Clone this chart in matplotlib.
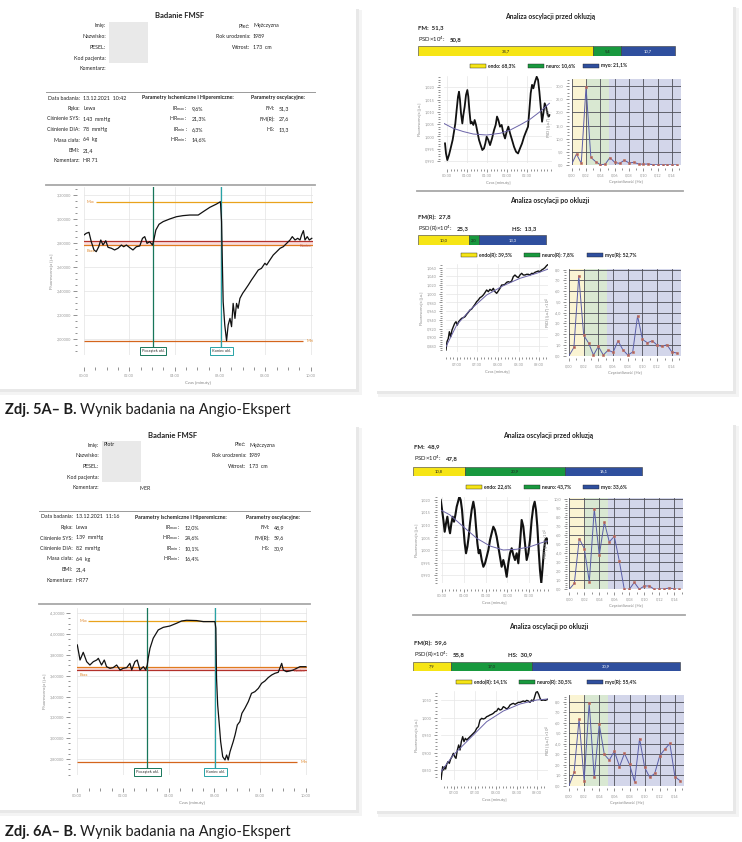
import numpy as np
import matplotlib.pyplot as plt
from matplotlib.patches import Rectangle
from matplotlib.lines import Line2D
from matplotlib.ticker import MultipleLocator, FuncFormatter
import matplotlib.transforms as mtransforms

plt.rcParams['font.family'] = ['Lato', 'DejaVu Sans']
plt.rcParams['mathtext.fontset'] = 'custom'
plt.rcParams['mathtext.rm'] = 'Lato'
plt.rcParams['mathtext.it'] = 'Lato:italic'
plt.rcParams['mathtext.bf'] = 'Lato:bold'

W, H = 742, 842

# --- naglowki ---
info_labels = ["Imię:", "Nazwisko:", "PESEL:", "Kod pacjenta:", "Komentarz:"]
info_r_labels = ["Płeć:", "Rok urodzenia:", "Wzrost:"]
info_r_values = ["Mężczyzna", "1989", "173  cm"]
left_labels = ["Data badania:", "Ręka:", "Ciśnienie SYS:", "Ciśnienie DIA:", "Masa ciała:", "BMI:", "Komentarz:"]
param_labels = ["IR$_{\\rm max}$ :", "HR$_{\\rm max}$ :", "IR$_{\\rm min}$ :", "HR$_{\\rm min}$ :"]
osc_labels = ["FM:", "FM(R):", "HS:"]

left_values_5 = ["13.12.2021  10:42", "Lewa", "143  mmHg", "78  mmHg", "64  kg", "21,4", "HR 71"]
param_values_5 = ["9,6%", "21,3%", "6,3%", "14,6%"]
osc_values_5 = ["51,3", "27,6", "13,3"]

left_values_6 = ["13.12.2021  11:16", "Lewa", "139  mmHg", "82  mmHg", "64  kg", "21,4", "HR77"]
param_values_6 = ["12,0%", "24,6%", "10,1%", "16,4%"]
osc_values_6 = ["48,9", "59,6", "30,9"]

# --- wykres glowny 5A ---
t_5 = [0.00, 0.10, 0.22, 0.32, 0.44, 0.54, 0.65, 0.74, 0.84, 0.96, 1.06, 1.21, 1.35, 1.50, 1.65, 1.75,
       1.87, 2.02, 2.16, 2.31, 2.46, 2.58, 2.68, 2.78, 2.90, 3.02, 3.08, 3.17, 3.31, 3.49, 3.78, 4.08,
       4.37, 4.67, 5.04, 5.26, 5.55, 5.85, 6.02, 6.07, 6.10, 6.14, 6.21, 6.29, 6.36, 6.44, 6.51, 6.58,
       6.66, 6.73, 6.80, 6.88, 7.00, 7.10, 7.25, 7.39, 7.54, 7.69, 7.83, 7.98, 8.06, 8.20, 8.35, 8.47,
       8.65, 8.79, 8.94, 9.09, 9.19, 9.31, 9.43, 9.53, 9.60, 9.68, 9.75, 9.85, 9.94, 10.05]
v_5 = [2.867, 2.881, 2.889, 2.811, 2.742, 2.728, 2.769, 2.825, 2.783, 2.819, 2.764, 2.756, 2.742, 2.756,
       2.783, 2.769, 2.783, 2.761, 2.742, 2.769, 2.775, 2.839, 2.853, 2.797, 2.811, 2.783, 2.825, 2.908,
       2.956, 2.978, 3.000, 3.019, 3.028, 3.033, 3.033, 3.061, 3.097, 3.125, 3.144, 2.978, 2.672, 2.311,
       2.117, 1.986, 2.117, 2.172, 2.103, 2.297, 2.172, 2.297, 2.256, 2.339, 2.381, 2.408, 2.450, 2.492,
       2.533, 2.575, 2.589, 2.631, 2.617, 2.658, 2.700, 2.722, 2.756, 2.769, 2.797, 2.825, 2.853, 2.825,
       2.839, 2.825, 2.867, 2.903, 2.825, 2.853, 2.825, 2.839]
levels_5 = {"max": 3.139, "baza": 2.781, "koniec": 2.819, "min": 1.986}
okl_5 = [3.05, 6.05]
yticks_5 = [2.0, 2.2, 2.4, 2.6, 2.8, 3.0, 3.2]

# --- wykres glowny 6A ---
t_6 = [0.00, 0.12, 0.26, 0.41, 0.55, 0.70, 0.85, 0.92, 1.06, 1.18, 1.28, 1.43, 1.57, 1.72, 1.87, 2.01,
       2.16, 2.30, 2.38, 2.52, 2.62, 2.74, 2.89, 2.99, 3.06, 3.10, 3.18, 3.32, 3.54, 3.76, 4.05, 4.34,
       4.56, 4.78, 5.22, 5.51, 6.02, 6.06, 6.09, 6.14, 6.20, 6.27, 6.36, 6.46, 6.53, 6.60, 6.68, 6.82,
       6.90, 7.00, 7.11, 7.20, 7.33, 7.48, 7.62, 7.77, 7.92, 8.06, 8.21, 8.35, 8.50, 8.64, 8.79, 8.94,
       9.01, 9.15, 9.30, 9.45, 9.59, 9.74, 10.00]
v_6 = [3.896, 3.751, 3.825, 3.735, 3.703, 3.735, 3.751, 3.767, 3.703, 3.751, 3.687, 3.671, 3.678, 3.703,
       3.655, 3.671, 3.678, 3.719, 3.655, 3.735, 3.751, 3.655, 3.687, 3.655, 3.703, 3.767, 3.864, 3.960,
       4.040, 4.065, 4.078, 4.104, 4.126, 4.133, 4.130, 4.120, 4.120, 4.056, 3.575, 3.319, 3.159, 2.967,
       2.822, 2.790, 2.838, 2.790, 2.870, 2.967, 3.031, 3.127, 3.159, 3.239, 3.287, 3.351, 3.431, 3.447,
       3.479, 3.527, 3.550, 3.582, 3.607, 3.623, 3.633, 3.719, 3.655, 3.639, 3.646, 3.655, 3.671, 3.687,
       3.687]
levels_6 = {"max": 4.126, "baza": 3.681, "koniec": 3.652, "min": 2.768}
okl_6 = [3.06, 6.03]
yticks_6 = [2.8, 3.0, 3.2, 3.4, 3.6, 3.8, 4.0, 4.2]

time_ticks = [0, 2, 4, 6, 8, 10]
time_labels = ["00:00", "02:00", "04:00", "06:00", "08:00", "10:00"]

# --- 5B: przed okluzja ---
t_5b1 = [0.442, 0.467, 0.500, 0.542, 0.583, 0.633, 0.667, 0.700, 0.733, 0.767, 0.792, 0.817, 0.842, 0.875,
         0.900, 0.933, 0.967, 1.000, 1.025, 1.050, 1.083, 1.108, 1.150, 1.183, 1.217, 1.250, 1.292, 1.333,
         1.375, 1.417, 1.450, 1.483, 1.525, 1.567, 1.617, 1.667, 1.708, 1.742, 1.775, 1.817, 1.858, 1.900,
         1.942, 1.983, 2.025, 2.067, 2.117, 2.167, 2.217, 2.267, 2.317, 2.367, 2.417, 2.467, 2.517, 2.550,
         2.583, 2.617, 2.650, 2.692, 2.733, 2.767, 2.800, 2.833, 2.867, 2.900, 2.933, 2.967, 3.000, 3.033,
         3.050]
v_5b1 = [0.9972, 0.9931, 0.9904, 0.9925, 0.9952, 0.9986, 1.0020, 1.0053, 1.0108, 1.0162, 1.0182, 1.0148,
         1.0094, 1.0053, 1.0087, 1.0121, 1.0169, 1.0189, 1.0162, 1.0108, 1.0053, 1.0060, 1.0047, 1.0067,
         1.0047, 1.0020, 0.9986, 0.9965, 0.9945, 0.9952, 0.9972, 0.9999, 0.9986, 0.9965, 0.9992, 1.0026,
         1.0047, 1.0081, 1.0067, 1.0040, 1.0047, 1.0013, 0.9992, 1.0020, 1.0040, 1.0013, 0.9986, 0.9958,
         0.9938, 0.9931, 0.9952, 0.9972, 0.9999, 1.0020, 1.0040, 1.0108, 1.0176, 1.0210, 1.0196, 1.0223,
         1.0243, 1.0230, 1.0182, 1.0121, 1.0060, 1.0094, 1.0135, 1.0121, 1.0094, 1.0081, 1.0087]
tt_5b1 = [0.417, 0.650, 0.900, 1.150, 1.483, 1.817, 2.067, 2.317, 2.567, 2.817, 3.050]
tv_5b1 = [1.0053, 1.0033, 1.0020, 1.0010, 1.0006, 1.0013, 1.0026, 1.0047, 1.0070, 1.0101, 1.0135]

# --- 5B: po okluzji ---
t_5b2 = [6.742, 6.766, 6.798, 6.823, 6.855, 6.887, 6.919, 6.952, 6.984, 7.016, 7.048, 7.081, 7.121, 7.161,
         7.202, 7.242, 7.282, 7.323, 7.363, 7.403, 7.444, 7.484, 7.524, 7.565, 7.605, 7.645, 7.685, 7.726,
         7.766, 7.806, 7.847, 7.887, 7.927, 7.968, 8.008, 8.048, 8.089, 8.129, 8.169, 8.210, 8.250, 8.290,
         8.331, 8.371, 8.411, 8.452, 8.492, 8.532, 8.573, 8.613, 8.653, 8.694, 8.734, 8.774, 8.815, 8.855,
         8.895, 8.935, 8.976, 9.016, 9.056, 9.097, 9.137, 9.177, 9.218]
v_5b2 = [0.8708, 0.8900, 0.8976, 0.9129, 0.9014, 0.9167, 0.9244, 0.9321, 0.9359, 0.9282, 0.9359, 0.9397,
         0.9436, 0.9451, 0.9474, 0.9528, 0.9574, 0.9627, 0.9650, 0.9704, 0.9757, 0.9819, 0.9857, 0.9911,
         0.9934, 0.9972, 1.0026, 1.0087, 1.0048, 1.0102, 1.0071, 1.0125, 1.0048, 1.0010, 1.0064, 1.0125,
         1.0202, 1.0202, 1.0217, 1.0263, 1.0278, 1.0263, 1.0294, 1.0393, 1.0431, 1.0393, 1.0370, 1.0431,
         1.0470, 1.0431, 1.0431, 1.0447, 1.0447, 1.0431, 1.0470, 1.0462, 1.0493, 1.0508, 1.0523, 1.0508,
         1.0546, 1.0569, 1.0600, 1.0646, 1.0677]
tt_5b2 = [6.742, 7.000, 7.323, 7.726, 8.129, 8.532, 8.935, 9.218]
tv_5b2 = [0.8785, 0.9282, 0.9627, 0.9972, 1.0186, 1.0355, 1.0470, 1.0569]

# --- 6B: przed okluzja ---
t_6b1 = [0.477, 0.508, 0.538, 0.568, 0.599, 0.629, 0.660, 0.690, 0.721, 0.751, 0.781, 0.812, 0.842, 0.873,
         0.903, 0.933, 0.964, 0.994, 1.025, 1.055, 1.086, 1.116, 1.146, 1.184, 1.222, 1.253, 1.283, 1.314,
         1.344, 1.375, 1.413, 1.451, 1.489, 1.527, 1.565, 1.603, 1.640, 1.678, 1.716, 1.754, 1.792, 1.830,
         1.868, 1.906, 1.944, 1.983, 2.021, 2.059, 2.097, 2.135, 2.173, 2.211, 2.249, 2.287, 2.325, 2.363,
         2.401, 2.439, 2.477, 2.515, 2.553, 2.591, 2.622, 2.652, 2.683, 2.713, 2.743, 2.773, 2.804, 2.834,
         2.865, 2.895, 2.918]
v_6b1 = [1.0200, 1.0160, 1.0120, 1.0073, 1.0107, 1.0133, 1.0093, 1.0067, 1.0107, 1.0133, 1.0113, 1.0140,
         1.0173, 1.0193, 1.0213, 1.0200, 1.0160, 1.0093, 1.0027, 0.9987, 1.0013, 1.0053, 1.0107, 1.0160,
         1.0193, 1.0160, 1.0093, 1.0027, 0.9987, 1.0000, 0.9960, 0.9933, 0.9947, 0.9973, 1.0000, 1.0040,
         1.0067, 1.0093, 1.0080, 1.0053, 1.0013, 0.9973, 0.9933, 0.9960, 0.9933, 0.9893, 0.9947, 0.9987,
         1.0007, 0.9980, 0.9960, 0.9987, 0.9947, 1.0027, 1.0120, 1.0093, 1.0027, 0.9960, 0.9987, 1.0040,
         1.0120, 1.0173, 1.0193, 1.0160, 1.0093, 1.0000, 0.9920, 0.9868, 0.9933, 1.0000, 1.0040, 1.0047,
         1.0027]
tt_6b1 = [0.477, 0.690, 0.994, 1.298, 1.603, 1.906, 2.211, 2.515, 2.743, 2.933]
tv_6b1 = [1.0160, 1.0140, 1.0093, 1.0047, 1.0016, 1.0000, 1.0003, 1.0013, 1.0027, 1.0037]

# --- 6B: po okluzji ---
t_6b2 = [6.688, 6.712, 6.728, 6.752, 6.776, 6.800, 6.824, 6.856, 6.888, 6.920, 6.952, 6.984, 7.016, 7.048,
         7.080, 7.112, 7.144, 7.176, 7.208, 7.240, 7.272, 7.304, 7.344, 7.384, 7.424, 7.464, 7.504, 7.544,
         7.584, 7.624, 7.664, 7.704, 7.744, 7.784, 7.824, 7.864, 7.904, 7.944, 7.984, 8.024, 8.064, 8.104,
         8.144, 8.184, 8.224, 8.264, 8.304, 8.344, 8.384, 8.424, 8.464, 8.504, 8.544, 8.584, 8.624, 8.664,
         8.704, 8.744, 8.784, 8.824, 8.864, 8.904, 8.936, 8.968, 9.000, 9.032, 9.064, 9.096, 9.144, 9.192,
         9.248]
v_6b2 = [0.8215, 0.8453, 0.8596, 0.8500, 0.8596, 0.8529, 0.8663, 0.8739, 0.8691, 0.8815, 0.8882, 0.8977,
         0.8882, 0.8834, 0.9072, 0.9215, 0.9072, 0.9310, 0.9453, 0.9310, 0.9405, 0.9358, 0.9405, 0.9453,
         0.9500, 0.9548, 0.9596, 0.9691, 0.9738, 0.9929, 0.9976, 0.9957, 0.9976, 1.0024, 1.0043, 1.0072,
         1.0091, 1.0119, 1.0167, 1.0186, 1.0262, 1.0215, 1.0233, 1.0310, 1.0281, 1.0243, 1.0281, 1.0357,
         1.0386, 1.0405, 1.0376, 1.0405, 1.0433, 1.0433, 1.0452, 1.0471, 1.0452, 1.0490, 1.0471, 1.0433,
         1.0500, 1.0471, 1.0595, 1.0719, 1.0738, 1.0662, 1.0548, 1.0490, 1.0500, 1.0490, 1.0519]
tt_6b2 = [6.688, 6.984, 7.384, 7.784, 8.184, 8.584, 8.984, 9.248]
tv_6b2 = [0.8453, 0.8929, 0.9405, 0.9881, 1.0186, 1.0386, 1.0500, 1.0529]

# --- widma PSD ---
freqs = [0.0, 0.0067, 0.0133, 0.0200, 0.0267, 0.0333, 0.0400, 0.0467, 0.0533, 0.0600, 0.0667, 0.0733,
         0.0800, 0.0867, 0.0933, 0.1000, 0.1067, 0.1133, 0.1200, 0.1267, 0.1333, 0.1400, 0.1467]
psd_5b1 = [0.3, 4.2, 0.6, 29.7, 2.9, 1.3, 0.1, 0.3, 2.8, 1.0, 0.6, 1.8, 0.8, 1.0, 0.4, 0.3, 0.4, 0.1,
           0.1, 0.1, 0.1, 0.05, 0.05]
psd_5b2 = [0.0, 0.77, 7.42, 1.9, 1.17, 0.06, 0.86, 0.06, 0.52, 0.31, 1.38, 0.55, 0.06, 0.34, 3.69, 1.51,
           1.2, 1.38, 0.98, 0.86, 1.02, 0.34, 0.25]
psd_6b1 = [0.0, 0.66, 5.62, 4.52, 0.85, 8.93, 3.79, 7.46, 5.26, 5.88, 3.13, 0.0, 0.0, 0.77, 0.0, 0.37,
           0.37, 0.0, 0.05, 0.03, 0.15, 0.03, 0.0]
psd_6b2 = [0.0, 1.27, 6.35, 0.48, 7.9, 0.79, 5.84, 2.98, 2.44, 3.3, 1.81, 3.08, 2.03, 0.38, 4.5, 1.75,
           0.79, 1.17, 2.86, 3.49, 4.03, 0.86, 0.48]
band_edges = [0.0, 0.021, 0.052, 0.152]
band_colors = ['#faf4d3', '#d9e8d2', '#d3d6ea']

# --- paski endo/neuro/myo ---
bar_5b1 = [34.7, 5.4, 10.7]
bar_5b2 = [10.0, 2.0, 13.3]
bar_6b1 = [10.8, 20.9, 16.1]
bar_6b2 = [7.9, 17.0, 30.9]
bar_colors = ['#f6e515', '#18993e', '#2f4f9e']
bar_text_colors = ['#222222', '#222222', '#ffffff']
leg_5b1 = ["endo: 68,3%", "neuro: 10,6%", "myo: 21,1%"]
leg_5b2 = ["endo(R): 39,5%", "neuro(R): 7,8%", "myo(R): 52,7%"]
leg_6b1 = ["endo: 22,6%", "neuro: 43,7%", "myo: 33,6%"]
leg_6b2 = ["endo(R): 14,1%", "neuro(R): 30,5%", "myo(R): 55,4%"]

fig = plt.figure(figsize=(W / 100, H / 100), dpi=100)
fig.patch.set_facecolor('white')
renderer = fig.canvas.get_renderer()


def rect(x0, y0, x1, y1):
    return [x0 / W, 1 - y1 / H, (x1 - x0) / W, (y1 - y0) / H]


def ftext(x, y, s, **kw):
    kw.setdefault('va', 'center')
    kw.setdefault('fontsize', 3.8)
    kw.setdefault('color', '#222222')
    return fig.text(x / W, 1 - y / H, s, **kw)


def fbox(x0, y0, x1, y1, **kw):
    fig.add_artist(Rectangle((x0 / W, 1 - y1 / H), (x1 - x0) / W, (y1 - y0) / H,
                             transform=fig.transFigure, **kw))


def fline(x0, x1, y, **kw):
    fig.add_artist(Line2D([x0 / W, x1 / W], [1 - y / H] * 2, transform=fig.transFigure, **kw))


def comma(nd):
    return FuncFormatter(lambda v, p: f"{v:.{nd}f}".replace('.', ','))


def card(x0, y0, x1, y1):
    fbox(x0 + 2, y0 + 2, x1 + 6, y1 + 6, color='#f4f4f4', lw=0, zorder=-12)
    fbox(x0 + 1, y0 + 1, x1 + 3, y1 + 3, color='#e8e8e8', lw=0, zorder=-11)
    fbox(x0, y0, x1, y1, color='white', lw=0, zorder=-10)


def style_ax(ax, off_bottom=6, off_left=3):
    for s in ax.spines.values():
        s.set_visible(False)
    ax.spines['bottom'].set_position(('outward', off_bottom))
    ax.spines['left'].set_position(('outward', off_left))
    ax.tick_params(which='both', colors='#666666', labelcolor='#9a9a9a', labelsize=2.8,
                   width=0.5, pad=1.5)
    ax.tick_params(which='major', length=3)
    ax.tick_params(which='minor', length=1.8)
    ax.patch.set_alpha(0)


def header(x_title, y_top, c, left_vals, par_vals, osc_vals, imie, komentarz):
    # c: kolumny [etykiety info, etykiety prawe, linia, lewa kol., srodek, prawa kol.]
    ftext(x_title, y_top, "Badanie FMSF", fontsize=5.5, fontweight='bold', ha='center')
    for i, lab in enumerate(info_labels):
        ftext(c[0], y_top + 10 + i * 10.7, lab, ha='right')
    fbox(c[0] + 3, y_top + 6, c[0] + 42, y_top + 47, color='#e9e9e9', lw=0)
    if imie:
        ftext(c[0] + 4, y_top + 10, imie)
    if komentarz:
        ftext(c[0] + 41, y_top + 53, komentarz)
    for i, (lab, val) in enumerate(zip(info_r_labels, info_r_values)):
        ftext(c[1], y_top + 10 + i * 10.7, lab, ha='right')
        ftext(c[1] + 3, y_top + 10 + i * 10.7, val)
    fline(c[2][0], c[2][1], y_top + 76, color='#9a9a9a', lw=0.7)
    y0 = y_top + 82
    for i, (lab, val) in enumerate(zip(left_labels, left_vals)):
        ftext(c[3], y0 + i * 10.5, lab, ha='right')
        ftext(c[3] + 3, y0 + i * 10.5, val)
    ftext(c[4], y0, "Parametry Ischemiczne i Hiperemiczne:", fontweight='bold', ha='center')
    for i, (lab, val) in enumerate(zip(param_labels, par_vals)):
        ftext(c[4], y0 + (i + 1) * 10.5, lab, ha='right')
        ftext(c[4] + 4, y0 + (i + 1) * 10.5, val)
    ftext(c[5], y0, "Parametry oscylacyjne:", fontweight='bold', ha='center')
    for i, (lab, val) in enumerate(zip(osc_labels, osc_vals)):
        ftext(c[5] - 3, y0 + (i + 1) * 10.5, lab, ha='right')
        ftext(c[5] + 1, y0 + (i + 1) * 10.5, val)
    fline(c[2][0], c[2][1], y_top + 169, color='#a8a8a8', lw=1.3)


def main_plot(r, t, v, lv, okl, yticks, ylim, xlim, max_from, min_to, koniec_x, box_y):
    ax = fig.add_axes(r)
    style_ax(ax, off_bottom=9, off_left=5)
    ax.set_xlim(xlim)
    ax.set_ylim(ylim)
    ax.set_xticks(time_ticks)
    ax.set_xticklabels(time_labels)
    ax.xaxis.set_minor_locator(MultipleLocator(0.5))
    ax.set_yticks(yticks)
    ax.yaxis.set_major_formatter(comma(5))
    ax.yaxis.set_minor_locator(MultipleLocator(0.05))
    ax.grid(True, which='major', color='#e3e3e3', lw=0.5)
    ax.set_axisbelow(True)
    lo, hi = sorted([lv["baza"], lv["koniec"]])
    ax.axhspan(lo, hi, color='#f9dcdc', lw=0, zorder=1)
    ax.axhline(lv["baza"], color='#e07b1f', lw=0.9, zorder=2)
    ax.axhline(lv["koniec"], color='#b3302b', lw=0.9, zorder=2)
    ax.hlines(lv["max"], max_from, xlim[1], color='#e9a31c', lw=0.9, zorder=2)
    ax.hlines(lv["min"], xlim[0], min_to, color='#d4651c', lw=0.9, zorder=2)
    ax.axvline(okl[0], color='#17765a', lw=0.9, zorder=3)
    ax.axvline(okl[1], color='#27a3a6', lw=0.9, zorder=3)
    ax.plot(t, v, color='#111111', lw=0.9, zorder=4)
    lk = dict(fontsize=2.9, va='center', zorder=5)
    ax.text(xlim[0] + 0.1, lv["max"], "Max", color='#e08a30', **lk)
    ax.text(xlim[0] + 0.1, lo - 0.045, "Baza", color='#e08a30', **lk)
    ax.text(koniec_x, lo - 0.01, "Koniec", color='#c0504d', ha='right', **lk)
    ax.text(min_to + 0.15, lv["min"], "Min", color='#e08a30', **lk)
    tr = mtransforms.blended_transform_factory(ax.transData, ax.transAxes)
    for x, lab, ec in zip(okl, ["Początek okl.", "Koniec okl."], ['#17765a', '#27a3a6']):
        ax.text(x, box_y, lab, transform=tr, ha='center', va='center', fontsize=2.9, color='#333333',
                zorder=6, bbox=dict(boxstyle='square,pad=0.45', fc='white', ec=ec, lw=0.7))
    ax.set_xlabel("Czas [minuty]", fontsize=3.2, color='#888888', labelpad=2)
    ax.set_ylabel("Fluorescencja [j.u.]", fontsize=3.2, color='#888888', labelpad=2)
    return ax


def sig_plot(r, t, v, tt, tv, xlim, ylim, yticks, ymin_step, xticks, xlabels, lw=1.2):
    ax = fig.add_axes(r)
    style_ax(ax, off_bottom=4, off_left=3)
    ax.set_xlim(xlim)
    ax.set_ylim(ylim)
    ax.set_xticks(xticks)
    ax.set_xticklabels(xlabels)
    ax.xaxis.set_minor_locator(MultipleLocator(1 / 12))
    ax.set_yticks(yticks)
    ax.yaxis.set_major_formatter(comma(3))
    ax.yaxis.set_minor_locator(MultipleLocator(ymin_step))
    ax.tick_params(which='major', length=2.5)
    ax.tick_params(which='minor', length=1.5)
    ax.grid(True, which='major', color='#e6e6e6', lw=0.5)
    ax.set_axisbelow(True)
    ax.plot(t, v, color='#111111', lw=lw, zorder=3)
    ax.plot(tt, tv, color='#6b64a8', lw=0.7, zorder=4)
    ax.set_xlabel("Czas [minuty]", fontsize=3, color='#888888', labelpad=2)
    ax.set_ylabel("Fluorescencja [j.u.]", fontsize=3, color='#888888', labelpad=1.5)


def psd_plot(r, p, ymax, ystep):
    ax = fig.add_axes(r)
    style_ax(ax, off_bottom=2, off_left=2)
    for i in range(3):
        ax.axvspan(band_edges[i], band_edges[i + 1], color=band_colors[i], lw=0, zorder=0)
    ax.set_xlim(band_edges[0], band_edges[-1])
    ax.set_ylim(0, ymax)
    ax.set_xticks(np.arange(0, 0.15, 0.02))
    ax.xaxis.set_major_formatter(comma(2))
    ax.xaxis.set_minor_locator(MultipleLocator(0.01))
    ax.set_yticks(np.arange(0, ymax, ystep))
    ax.yaxis.set_major_formatter(comma(1))
    ax.yaxis.set_minor_locator(MultipleLocator(ystep / 4))
    ax.tick_params(which='major', length=2.5)
    ax.tick_params(which='minor', length=1.5)
    ax.grid(True, which='major', color='#4e4e58', lw=0.6, zorder=1)
    ax.set_axisbelow(False)
    ax.plot(freqs, p, color='#5a5ea8', lw=0.7, zorder=3)
    ax.plot(freqs[1:], p[1:], ls='none', marker='s', ms=2.0, mfc='#a5566c', mec='#c97a52',
            mew=0.4, zorder=4)
    ax.set_xlabel("Częstotliwość [Hz]", fontsize=3, color='#888888', labelpad=2)
    ax.set_ylabel("PSD [(j.u.)²]×10$^{4}$", fontsize=3, color='#888888', labelpad=1.5)


def bar_plot(r, vals, xmax):
    ax = fig.add_axes(r)
    left = 0
    for val, c, tc in zip(vals, bar_colors, bar_text_colors):
        ax.barh(0, val, left=left, height=1, color=c, ec='#3a3a3a', lw=0.4)
        ax.text(left + val / 2, 0, f"{val:.1f}".replace('.', ','), ha='center', va='center',
                fontsize=3, color=tc)
        left += val
    ax.set_xlim(0, xmax)
    ax.set_ylim(-0.5, 0.5)
    ax.axis('off')


def legend_row(y, xs, labels):
    for x, lab, c in zip(xs, labels, bar_colors):
        fbox(x, y - 2.2, x + 16, y + 2.2, fc=c, ec='#222222', lw=0.3)
        ftext(x + 18, y, lab, fontsize=3.6, fontweight='bold')


def fm_lines(x, y, fm_lab, fm_val, psd_lab, psd_val, hs=None):
    ftext(x, y, f"{fm_lab}  {fm_val}", fontsize=4.3, fontweight='bold')
    t1 = ftext(x, y + 11.5, psd_lab, fontsize=4.3)
    bb = t1.get_window_extent(renderer)
    ftext(bb.x1 + 4, y + 11.5, psd_val, fontsize=4.3, fontweight='bold')
    if hs is not None:
        ftext(hs[0], y + 11.5, f"HS:  {hs[1]}", fontsize=4.3, fontweight='bold')


# --- karty ---
card(-10, 8, 356, 389)
card(376, 6, 733, 391)
card(-10, 426, 356, 810)
card(376, 424, 733, 811)

# ===== Zdj. 5A =====
header(180, 16, [106, 250, (46, 315), 80, 188, 278], left_values_5, param_values_5, osc_values_5,
       None, None)
main_plot(rect(84, 187.3, 312.7, 355), t_5, v_5, levels_5, okl_5, yticks_5, (1.867, 3.264),
          (0, 10.09), 0.55, 9.68, 10.05, 0.025)

# ===== Zdj. 5B =====
ftext(550, 16, "Analiza oscylacji przed okluzją", fontsize=4.9, fontweight='bold', ha='center')
fm_lines(418, 28, "FM:", "51,3", "PSD×10$^{4}$:", "50,8")
bar_plot(rect(418, 46, 683, 56), bar_5b1, 52.4)
legend_row(66, [470, 528, 583], leg_5b1)
sig_plot(rect(444, 76, 551.7, 163.3), t_5b1, v_5b1, tt_5b1, tv_5b1, (0.417, 3.108), (0.9891, 1.0246),
         [0.990, 0.995, 1.000, 1.005, 1.010, 1.015, 1.020], 0.001,
         [0.5, 1.0, 1.5, 2.0, 2.5], ["00:30", "01:00", "01:30", "02:00", "02:30"], lw=1.3)
psd_plot(rect(571.7, 79, 680.7, 165), psd_5b1, 32.7, 5)
fline(417, 683, 191, color='#a8a8a8', lw=1.3)

ftext(550, 201, "Analiza oscylacji po okluzji", fontsize=4.9, fontweight='bold', ha='center')
fm_lines(418, 217, "FM(R):", "27,8", "PSD(R)×10$^{4}$:", "25,3", hs=(512, "13,3"))
bar_plot(rect(418, 235, 683, 245), bar_5b2, 52.4)
legend_row(255, [461, 524, 587], leg_5b2)
sig_plot(rect(446, 264.3, 548.3, 351.7), t_5b2, v_5b2, tt_5b2, tv_5b2, (6.742, 9.218), (0.867, 1.0677),
         [0.88, 0.90, 0.92, 0.94, 0.96, 0.98, 1.00, 1.02, 1.04, 1.06], 0.005,
         [7.0, 7.5, 8.0, 8.5, 9.0], ["07:00", "07:30", "08:00", "08:30", "09:00"], lw=1.0)
psd_plot(rect(569, 269, 680.7, 355.7), psd_5b2, 8.05, 1)

# ===== Zdj. 6A =====
header(173, 435, [99, 246, (39, 310), 73, 181, 273], left_values_6, param_values_6, osc_values_6,
       "Piotr", "MER")
main_plot(rect(77.3, 608.3, 307.3, 775), t_6, v_6, levels_6, okl_6, yticks_6, (2.646, 4.248),
          (0, 10.06), 0.48, 9.6, 10.0, 0.018)

# ===== Zdj. 6B =====
ftext(548, 435, "Analiza oscylacji przed okluzją", fontsize=4.9, fontweight='bold', ha='center')
fm_lines(414, 447, "FM:", "48,9", "PSD×10$^{4}$:", "47,8")
bar_plot(rect(413, 467, 685, 476), bar_6b1, 56.8)
legend_row(487, [466, 524, 583], leg_6b1)
sig_plot(rect(440.7, 496.7, 548.3, 583.3), t_6b1, v_6b1, tt_6b1, tv_6b1, (0.477, 2.933), (0.9867, 1.0213),
         [0.990, 0.995, 1.000, 1.005, 1.010, 1.015, 1.020], 0.001,
         [0.5, 1.0, 1.5, 2.0, 2.5], ["00:30", "01:00", "01:30", "02:00", "02:30"], lw=1.5)
psd_plot(rect(569.3, 498.3, 683.3, 589.3), psd_6b1, 10.1, 1)
fline(413, 685, 615, color='#a8a8a8', lw=1.3)

ftext(549, 627, "Analiza oscylacji po okluzji", fontsize=4.9, fontweight='bold', ha='center')
fm_lines(414, 643, "FM(R):", "59,6", "PSD(R)×10$^{4}$:", "55,8", hs=(508, "30,9"))
bar_plot(rect(413, 662, 685, 671), bar_6b2, 56.8)
legend_row(682, [456, 519, 587], leg_6b2)
sig_plot(rect(441, 691, 547.7, 780), t_6b2, v_6b2, tt_6b2, tv_6b2, (6.688, 9.248), (0.8215, 1.0757),
         [0.85, 0.90, 0.95, 1.00, 1.05], 0.01,
         [7.0, 7.5, 8.0, 8.5, 9.0], ["07:00", "07:30", "08:00", "08:30", "09:00"], lw=1.0)
psd_plot(rect(569, 695, 684, 785.7), psd_6b2, 8.65, 1)

# --- podpisy ---
for y, bold, rest in [(410, "Zdj. 5A– B.", "Wynik badania na Angio-Ekspert"),
                      (832, "Zdj. 6A– B.", "Wynik badania na Angio-Ekspert")]:
    t1 = ftext(5, y, bold, fontsize=10.5, fontweight='bold', color='#1e1e1e')
    bb = t1.get_window_extent(renderer)
    fig.text((bb.x1 + 3) / W, 1 - y / H, rest, fontsize=10.5, va='center', color='#1e1e1e')

fig.savefig("out.png", dpi=100, facecolor='white')
